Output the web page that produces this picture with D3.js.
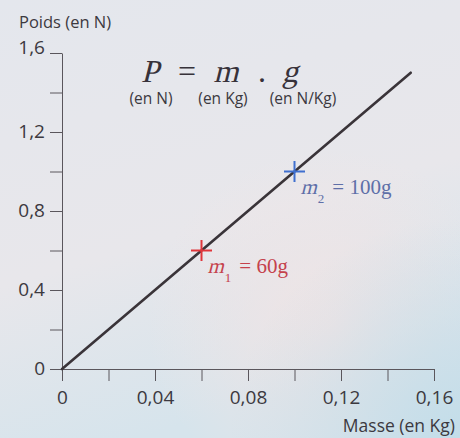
<!DOCTYPE html>
<html>
<head>
<meta charset="utf-8">
<script src="https://cdn.jsdelivr.net/npm/d3@7/dist/d3.min.js"></script>
<style>
  html, body { margin: 0; padding: 0; background: #e6e9ee; }
  svg { display: block; }
</style>
</head>
<body>
<svg id="chart" width="460" height="438"></svg>
<script>
// ---- data ----
const massDomain = [0, 0.16];
const poidsDomain = [0, 1.6];
const massTicks = [0, 0.02, 0.04, 0.06, 0.08, 0.10, 0.12, 0.14, 0.16];
const massTickLabels = ["0", "", "0,04", "", "0,08", "", "0,12", "", "0,16"];
const poidsTicks = [0, 0.2, 0.4, 0.6, 0.8, 1.0, 1.2, 1.4, 1.6];
const poidsTickLabels = ["0", "", "0,4", "", "0,8", "", "1,2", "", "1,6"];
const lineMass = [0, 0.15];
const linePoids = [0, 1.5];
const pointNames = ["m", "m"];
const pointSubs = ["1", "2"];
const pointMass = [0.06, 0.10];
const pointPoids = [0.6, 1.0];
const pointText = ["= 60g", "= 100g"];
const pointMarkerColors = ["#e0353a", "#3f6fcf"];
const pointTextColors = ["#c5424c", "#5e6fa8"];

const svg = d3.select("#chart");
const W = 460, H = 438;

// background
const defs = svg.append("defs");
const lg = defs.append("linearGradient").attr("id", "bg").attr("x1", 0).attr("y1", 0).attr("x2", 0.3).attr("y2", 1);
lg.append("stop").attr("offset", "0%").attr("stop-color", "#e4e7ed");
lg.append("stop").attr("offset", "60%").attr("stop-color", "#e8e7eb");
lg.append("stop").attr("offset", "100%").attr("stop-color", "#d6e4ec");
const rp = defs.append("radialGradient").attr("id", "pink").attr("cx", 0.72).attr("cy", 0.74).attr("r", 0.4);
rp.append("stop").attr("offset", "0%").attr("stop-color", "#f2e4e4").attr("stop-opacity", 0.9);
rp.append("stop").attr("offset", "100%").attr("stop-color", "#f2e4e4").attr("stop-opacity", 0);
const rb = defs.append("radialGradient").attr("id", "blue").attr("cx", 1).attr("cy", 1).attr("r", 0.5);
rb.append("stop").attr("offset", "0%").attr("stop-color", "#c3dde9").attr("stop-opacity", 1);
rb.append("stop").attr("offset", "100%").attr("stop-color", "#c3dde9").attr("stop-opacity", 0);
svg.append("rect").attr("width", W).attr("height", H).attr("fill", "url(#bg)");
svg.append("rect").attr("width", W).attr("height", H).attr("fill", "url(#pink)");
svg.append("rect").attr("width", W).attr("height", H).attr("fill", "url(#blue)");

const x = d3.scaleLinear().domain(massDomain).range([62, 434]);
const y = d3.scaleLinear().domain(poidsDomain).range([369, 53]);

const sans = "Open Sans, Noto Sans, sans-serif";
const serif = "Liberation Serif, DejaVu Serif, serif";
const axisColor = "#5a565c";
const textColor = "#3c3940";

// italic by skewing an upright serif glyph around its baseline
function skewText(sel, px, py, angle) {
  return sel.attr("transform", `translate(${px},${py}) skewX(${angle})`);
}

// x axis
const xAxis = d3.axisBottom(x)
  .tickValues(massTicks)
  .tickSize(12)
  .tickSizeOuter(0)
  .tickPadding(10)
  .tickFormat((d, i) => massTickLabels[i]);
const gx = svg.append("g").attr("transform", `translate(0,${y(0)})`).call(xAxis);
gx.attr("font-family", null).attr("font-size", null);
gx.select(".domain").attr("stroke", axisColor).attr("stroke-width", 1);
gx.selectAll(".tick line").attr("stroke", axisColor).attr("stroke-width", 1);
gx.selectAll(".tick text").attr("fill", textColor).attr("font-family", sans).attr("font-size", 19);

// y axis
const yAxis = d3.axisLeft(y)
  .tickValues(poidsTicks)
  .tickSize(12)
  .tickSizeOuter(0)
  .tickPadding(5)
  .tickFormat((d, i) => poidsTickLabels[i]);
const gy = svg.append("g").attr("transform", `translate(${x(0)},0)`).call(yAxis);
gy.attr("font-family", null).attr("font-size", null);
gy.select(".domain").attr("stroke", axisColor).attr("stroke-width", 1);
gy.selectAll(".tick line").attr("stroke", axisColor).attr("stroke-width", 1);
gy.selectAll(".tick text").attr("fill", textColor).attr("font-family", sans).attr("font-size", 19)
  .attr("dy", d => d === 1.6 ? "0.02em" : "0.3em");

// axis titles
svg.append("text").attr("x", 19).attr("y", 28).text("Poids (en N)")
  .attr("fill", textColor).attr("font-family", sans).attr("font-size", 16.5);
svg.append("text").attr("x", 455).attr("y", 432).attr("text-anchor", "end").text("Masse (en Kg)")
  .attr("fill", textColor).attr("font-family", sans).attr("font-size", 17.5);

// formula
const formula = [
  { t: "P", cx: 150, italic: true },
  { t: "=", cx: 187, italic: false },
  { t: "m", cx: 226, italic: true },
  { t: ".", cx: 262, italic: false },
  { t: "g", cx: 290, italic: true }
];
formula.forEach(d => {
  const t = svg.append("text")
    .attr("text-anchor", "middle")
    .attr("font-family", serif).attr("font-size", 32)
    .attr("fill", "#37323a")
    .text(d.t);
  skewText(t, d.cx, 82, d.italic ? -14 : 0);
});
const units = [
  { t: "(en N)", cx: 151 },
  { t: "(en Kg)", cx: 223 },
  { t: "(en N/Kg)", cx: 303 }
];
svg.selectAll("text.unit").data(units).join("text")
  .attr("class", "unit")
  .attr("x", d => d.cx).attr("y", 104).attr("text-anchor", "middle")
  .attr("font-family", sans).attr("font-size", 15.5)
  .attr("fill", textColor)
  .text(d => d.t);

// line
svg.append("line")
  .attr("x1", x(lineMass[0])).attr("y1", y(linePoids[0]))
  .attr("x2", x(lineMass[1])).attr("y2", y(linePoids[1]))
  .attr("stroke", "#3a3439").attr("stroke-width", 2.6).attr("stroke-linecap", "round");

// points
const pts = pointMass.map((m, i) => ({
  m, p: pointPoids[i], name: pointNames[i], sub: pointSubs[i], txt: pointText[i],
  mc: pointMarkerColors[i], tc: pointTextColors[i]
}));
const arm = 10.5;
pts.forEach(d => {
  const cx = x(d.m), cy = y(d.p);
  svg.append("line").attr("x1", cx - arm).attr("x2", cx + arm).attr("y1", cy).attr("y2", cy)
    .attr("stroke", d.mc).attr("stroke-width", 2);
  svg.append("line").attr("x1", cx).attr("x2", cx).attr("y1", cy - arm).attr("y2", cy + arm)
    .attr("stroke", d.mc).attr("stroke-width", 2);
  const lx = cx + 6, ly = cy + 22;
  const mt = svg.append("text").attr("font-family", serif).attr("font-size", 21).attr("fill", d.tc).text(d.name);
  skewText(mt, lx, ly, -14);
  const mw = mt.node().getComputedTextLength();
  const st = svg.append("text").attr("x", lx + mw + 1).attr("y", ly + 9)
    .attr("font-family", serif).attr("font-size", 13).attr("fill", d.tc).text(d.sub);
  const sw = st.node().getComputedTextLength();
  svg.append("text").attr("x", lx + mw + 1 + sw + 8).attr("y", ly)
    .attr("font-family", serif).attr("font-size", 21).attr("fill", d.tc).text(d.txt);
});
</script>
</body>
</html>
